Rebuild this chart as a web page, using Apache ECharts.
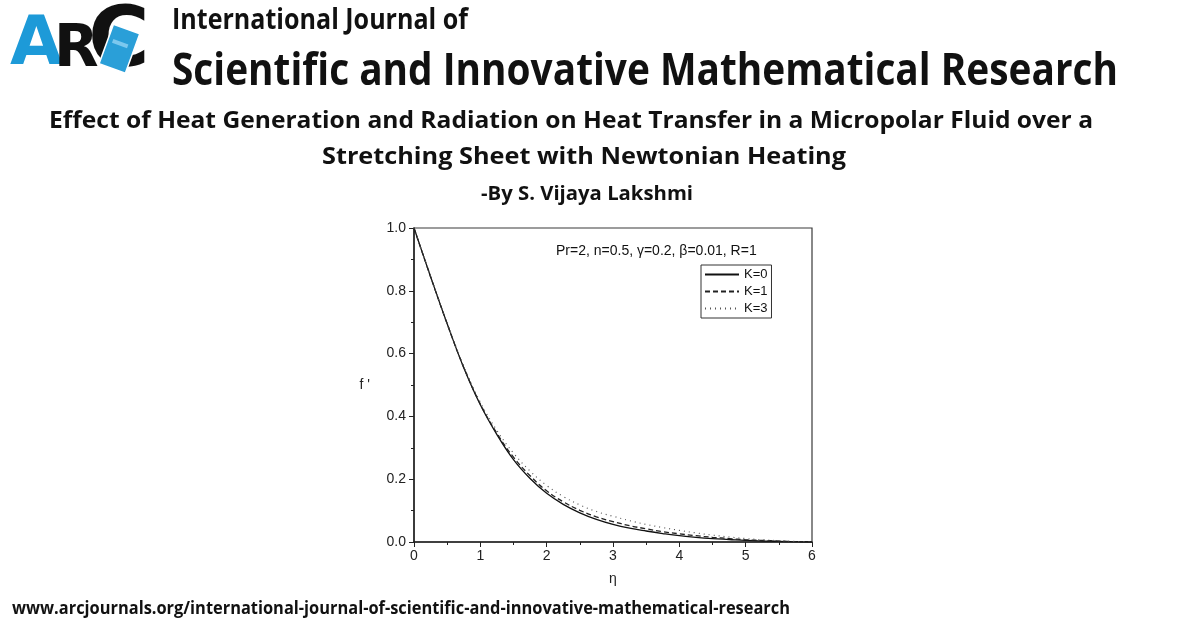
<!DOCTYPE html>
<html>
<head>
<meta charset="utf-8">
<script src="https://cdn.jsdelivr.net/npm/echarts@6/dist/echarts.min.js"></script>
<style>
html,body{margin:0;padding:0;background:#fff;}
#chart{width:1200px;height:628px;}
</style>
</head>
<body>
<div id="chart"></div>
<script>
// ---- data ----
const eta = [0,0.25,0.5,0.75,1,1.25,1.5,1.75,2,2.25,2.5,2.75,3,3.25,3.5,3.75,4,4.25,4.5,4.75,5,5.25,5.5,5.75,6];
const fK0 = [1,0.845,0.695,0.555,0.437,0.342,0.262,0.202,0.155,0.120,0.093,0.072,0.056,0.044,0.035,0.027,0.020,0.015,0.011,0.008,0.005,0.003,0.002,0.001,0];
const fK1 = [1,0.845,0.695,0.556,0.439,0.346,0.270,0.211,0.163,0.128,0.101,0.080,0.065,0.052,0.042,0.033,0.026,0.020,0.015,0.011,0.007,0.005,0.003,0.001,0];
const fK3 = [1,0.846,0.697,0.560,0.445,0.355,0.283,0.226,0.180,0.145,0.118,0.097,0.082,0.068,0.056,0.046,0.037,0.029,0.022,0.016,0.011,0.007,0.004,0.002,0];
const seriesNames = ['K=0','K=1','K=3'];
const xTicks = [0,1,2,3,4,5,6];
const yTicks = [0,0.2,0.4,0.6,0.8,1.0];
const journalLine1 = 'International Journal of';
const journalLine2 = 'Scientific and Innovative Mathematical Research';
const titleLine1 = 'Effect of Heat Generation and Radiation on Heat Transfer in a Micropolar Fluid over a';
const titleLine2 = 'Stretching Sheet with Newtonian Heating';
const authorLine = '-By S. Vijaya Lakshmi';
const footerText = 'www.arcjournals.org/international-journal-of-scientific-and-innovative-mathematical-research';
const paramText = 'Pr=2, n=0.5, \u03b3=0.2, \u03b2=0.01, R=1';

const pairs = arr => eta.map((x,i)=>[x,arr[i]]);

// measure text to fit the header widths of the reference
const cv = document.createElement('canvas').getContext('2d');
function fitScale(text, font, target){ cv.font = font; return target / cv.measureText(text).width; }
function headerText(text, font, x, y, targetW, align){
  const s = fitScale(text, font, targetW);
  return {type:'text', x:x, y:y, scaleX:s, scaleY:1, z:10,
    style:{text:text, font:font, fill:'#111', textAlign:align||'left', textVerticalAlign:'middle'}};
}

const chart = echarts.init(document.getElementById('chart'), null, {renderer:'canvas'});
const fH1 = 'bold 29px "Open Sans"';
const fH2 = 'bold 45px "Open Sans"';
const fT = 'bold 24px "Open Sans"';
const fA = 'bold 20px "Open Sans"';
const fF = 'bold 17px "Open Sans"';

const option = {
  backgroundColor:'#ffffff',
  animation:false,
  grid:{left:414, top:228, width:398, height:314, show:true, borderColor:'#3a3a3a', borderWidth:1.2, backgroundColor:'transparent'},
  legend:{
    orient:'vertical', left:701, top:265, data:seriesNames,
    itemWidth:34, itemHeight:10, itemGap:4, padding:[3,4,3,3],
    borderColor:'#333', borderWidth:1, backgroundColor:'#fff',
    itemStyle:{opacity:0},
    textStyle:{fontFamily:'Liberation Sans', fontSize:13, color:'#111'},
    selectedMode:false
  },
  xAxis:{
    type:'value', min:0, max:6, interval:1,
    name:'\u03b7', nameLocation:'middle', nameGap:30,
    nameTextStyle:{fontFamily:'Liberation Sans', fontSize:14, color:'#222'},
    axisLine:{lineStyle:{color:'#222', width:1.5}},
    axisTick:{show:true, inside:false, length:5, lineStyle:{color:'#222'}},
    minorTick:{show:true, splitNumber:2, length:3, lineStyle:{color:'#222'}},
    splitLine:{show:false},
    axisLabel:{fontFamily:'Liberation Sans', fontSize:14, color:'#222', margin:7,
      formatter:v=>xTicks.includes(v)?String(v):''}
  },
  yAxis:{
    type:'value', min:0, max:1, interval:0.2,
    name:"f '", nameLocation:'middle', nameGap:44, nameRotate:0,
    nameTextStyle:{fontFamily:'Liberation Sans', fontSize:14, color:'#222'},
    axisLine:{lineStyle:{color:'#222', width:1.5}},
    axisTick:{show:true, inside:false, length:5, lineStyle:{color:'#222'}},
    minorTick:{show:true, splitNumber:2, length:3, lineStyle:{color:'#222'}},
    splitLine:{show:false},
    axisLabel:{fontFamily:'Liberation Sans', fontSize:14, color:'#222', margin:8,
      formatter:v=>{const t=yTicks.find(a=>Math.abs(a-v)<1e-9); return t===undefined?'':t.toFixed(1);}}
  },
  series:[
    {name:seriesNames[0], type:'line', data:pairs(fK0), smooth:0.4, showSymbol:false, symbol:'none',
      lineStyle:{color:'#111', width:1.3, type:'solid'}, itemStyle:{color:'#111'}},
    {name:seriesNames[1], type:'line', data:pairs(fK1), smooth:0.4, showSymbol:false, symbol:'none',
      lineStyle:{color:'#222', width:1.3, type:[5,3]}, itemStyle:{color:'#222'}},
    {name:seriesNames[2], type:'line', data:pairs(fK3), smooth:0.4, showSymbol:false, symbol:'none',
      lineStyle:{color:'#555', width:1.2, type:[1,4]}, itemStyle:{color:'#555'}}
  ],
  graphic:[
    // logo
    {type:'text', x:10, y:80, z:5, style:{text:'A', font:'bold 68px "DejaVu Sans"', fill:'#1d9ad8', textAlign:'left', textVerticalAlign:'bottom'}},
    {type:'text', x:54, y:80, z:6, style:{text:'R', font:'bold 58px "DejaVu Sans"', fill:'#111', textAlign:'left', textVerticalAlign:'bottom'}},
    {type:'text', x:88, y:86, z:6, style:{text:'C', font:'bold 84px "DejaVu Sans"', fill:'#111', textAlign:'left', textVerticalAlign:'bottom'}},
    {type:'rect', x:120, y:50, rotation:-0.35, z:7, shape:{x:-15, y:-22, width:28, height:42}, style:{fill:'#2a9fd8', stroke:'#fff', lineWidth:1.5}},
    {type:'rect', x:120, y:50, rotation:-0.35, z:8, shape:{x:-10, y:-8, width:16, height:4}, style:{fill:'#7cc8ee'}},
    headerText(journalLine1, fH1, 172, 21, 296),
    headerText(journalLine2, fH2, 172, 72, 946),
    headerText(titleLine1, fT, 571, 121, 1044, 'center'),
    headerText(titleLine2, fT, 584, 157, 524, 'center'),
    headerText(authorLine, fA, 587, 194, 212, 'center'),
    headerText(footerText, fF, 12, 609, 778),
    {type:'text', x:556, y:251, z:10, style:{text:paramText, font:'14px "Liberation Sans"', fill:'#111', textAlign:'left', textVerticalAlign:'middle'}}
  ]
};
chart.setOption(option);
</script>
</body>
</html>
